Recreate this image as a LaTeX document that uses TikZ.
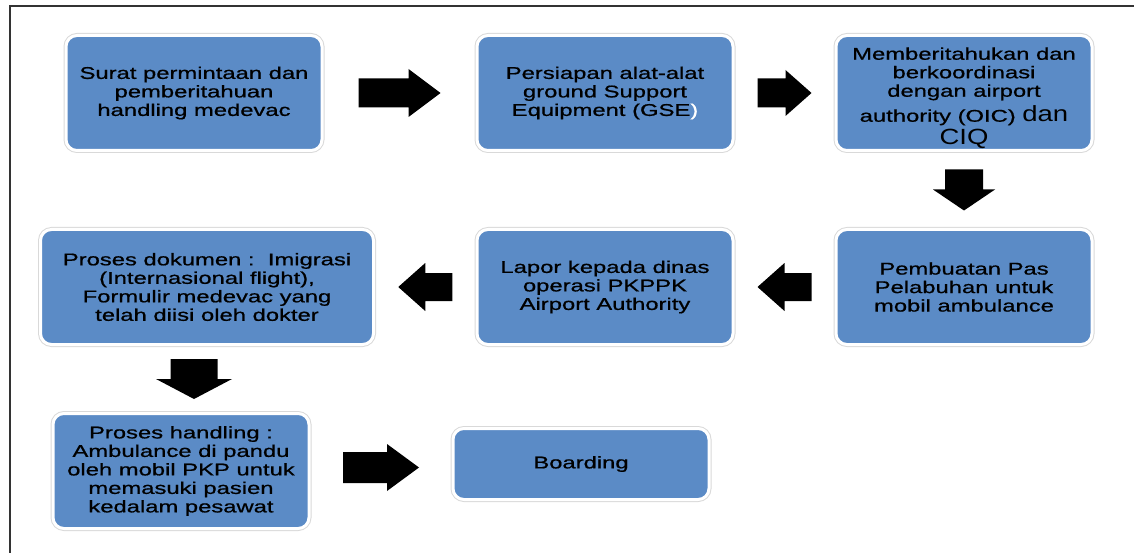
\documentclass[tikz,border=0pt]{standalone}
\usepackage{fontspec}
\setmainfont{Liberation Sans}[FakeStretch=1.4, FakeBold=0.8]
\newfontfamily\bigfont{Liberation Sans}[FakeStretch=1.25]
\usetikzlibrary{calc}

\definecolor{boxblue}{RGB}{91,139,198}
\newcommand{\bigtxt}[1]{{\bigfont\fontsize{22}{24}\selectfont #1}}

\tikzset{
  flowbox/.style={rectangle, rounded corners=11pt, fill=boxblue, draw=white, line width=3pt,
    preaction={draw=black!15, line width=5pt},
    minimum width=256pt, minimum height=115pt, inner sep=2pt, align=center,
    font=\fontsize{17}{18.5}\selectfont},
  pics/blockarrow/.style args={#1/#2/#3/#4}{code={
    \fill [black] (-#1/2,-#2/2) -- (#1/2-#4,-#2/2) -- (#1/2-#4,-#3/2) -- (#1/2,0)
      -- (#1/2-#4,#3/2) -- (#1/2-#4,#2/2) -- (-#1/2,#2/2) -- cycle;
  }}
}

\begin{document}
\begin{tikzpicture}[x=1pt, y=-1pt]
    \useasboundingbox (0,0) rectangle (1134,553);
    \draw [line width=2.5pt, black!80] (10,553) -- (10,6) -- (1134,6);

    % first row
    \node [flowbox] (surat) at (194,93) {Surat permintaan dan\\pemberitahuan\\handling medevac};
    \node [flowbox] (gse) at (605,93) {Persiapan alat-alat\\ground Support\\Equipment (GSE\textcolor{white}{)}};
    \node [flowbox] (oic) at (964,93) {\rule{0pt}{22pt}Memberitahukan dan\\berkoordinasi\\dengan airport\\[4.5pt]authority (OIC) \bigtxt{dan}\\[2.5pt]\bigtxt{CIQ}};

    % second row
    \node [flowbox] (pas) at (964,287) {Pembuatan Pas\\Pelabuhan untuk\\mobil ambulance};
    \node [flowbox] (lapor) at (605,287) {Lapor kepada dinas\\operasi PKPPK\\Airport Authority};
    \node [flowbox, minimum width=333pt] (dokumen) at (207,287) {Proses dokumen :\ \ Imigrasi\\(Internasional flight),\\Formulir medevac yang\\telah diisi oleh dokter};

    % third row
    \node [flowbox] (handling) at (181,471) {Proses handling :\\Ambulance di pandu\\oleh mobil PKP untuk\\memasuki pasien\\kedalam pesawat};
    \node [flowbox, minimum height=71pt] (boarding) at (581,464) {Boarding};

    % block arrows: length/shaft/head width/head length
    \pic at ($(surat.east)!.5!(gse.west)$) {blockarrow=82/29/48/32};
    \pic at ($(gse.east)!.5!(oic.west)$) {blockarrow=54/29/46/26};
    \pic [rotate=-90] at ($(oic.south)!.5!(pas.north)$) {blockarrow=41/38/62/21};
    \pic [rotate=180] at ($(pas.west)!.5!(lapor.east)$) {blockarrow=54/28/48/27};
    \pic [rotate=180] at ($(lapor.west)!.5!(dokumen.east)$) {blockarrow=54/28/48/27};
    \pic [rotate=-90] at ($(dokumen.south)!.5!(handling.north)$) {blockarrow=40/47/76/20};
    \pic at ($(handling.east)!.5!(boarding.west)$) {blockarrow=76/31/47/32};
\end{tikzpicture}
\end{document}
